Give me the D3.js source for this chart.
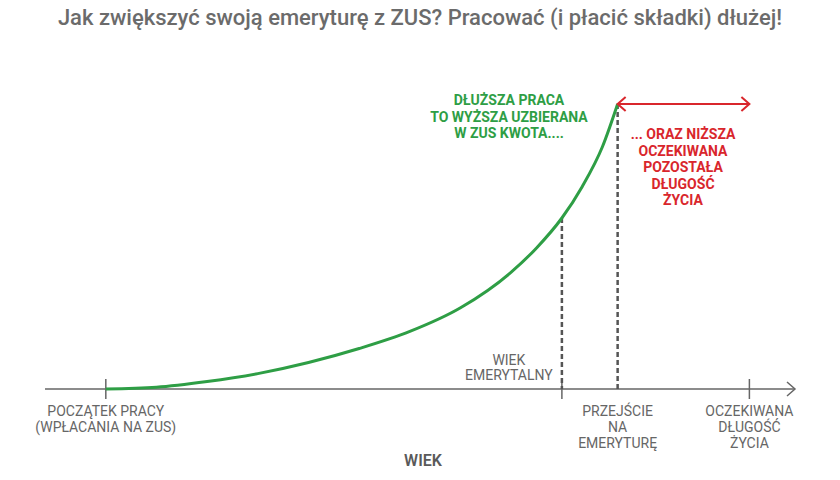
<!DOCTYPE html>
<html>
    <head>
        <meta charset="utf-8">
        <title>Emerytura ZUS</title>
        <script type="text/javascript" src="https://cdn.jsdelivr.net/npm/d3@7"></script>
        <style>
            body { margin: 0; background: #fff; }
            text { font-family: Roboto, "Noto Sans", sans-serif; }
        </style>
    </head>
    <body>
        <script type="text/javascript">
            // wiek (lata) i uzbierana kwota (umowne jednostki, 100 = szczyt)
            var ages    = [20, 25, 30, 35, 40, 45, 50, 55, 60, 62.5, 65, 67, 69, 70.5];
            var savings = [0, 0.6, 2.6, 5.4, 9.3, 14.2, 20.2, 28.5, 41, 49.5, 60, 71, 85, 100];

            var startAge = 20, retireAge = 65, exitAge = 70.5, lifeAge = 83.5;

            var tickAges = [startAge, retireAge, lifeAge];
            var tickLabels = [
                ["POCZĄTEK PRACY", "(WPŁACANIA NA ZUS)"],
                null,
                ["OCZEKIWANA", "DŁUGOŚĆ", "ŻYCIA"]
            ];
            var retireLabel = ["WIEK", "EMERYTALNY"];
            var exitLabel = ["PRZEJŚCIE", "NA", "EMERYTURĘ"];
            var greenNote = ["DŁUŻSZA PRACA", "TO WYŻSZA UZBIERANA", "W ZUS KWOTA...."];
            var redNote = ["... ORAZ NIŻSZA", "OCZEKIWANA", "POZOSTAŁA", "DŁUGOŚĆ", "ŻYCIA"];

            var width = 840, height = 480;
            var green = "#2e9e45", red = "#d9262c", grey = "#666";

            var svg = d3.select("body").append("svg").attr("width", width).attr("height", height);

            var x = d3.scaleLinear().domain([14, 88]).range([45, 795]);
            var y = d3.scaleLinear().domain([0, 100]).range([389, 104]);

            svg.append("text")
                .attr("x", width / 2).attr("y", 25)
                .attr("text-anchor", "middle")
                .attr("font-size", 22).attr("font-weight", 500)
                .attr("fill", "#6b6b6b")
                .text("Jak zwiększyć swoją emeryturę z ZUS? Pracować (i płacić składki) dłużej!");

            // os wieku
            var axis = svg.append("g").attr("stroke", grey).attr("stroke-width", 1.5).attr("fill", "none");
            axis.append("line").attr("x1", x(14)).attr("x2", x(88)).attr("y1", y(0)).attr("y2", y(0));
            axis.append("path")
                .attr("d", "M" + (x(88) - 8) + "," + (y(0) - 7) + " L" + x(88) + "," + y(0) + " L" + (x(88) - 8) + "," + (y(0) + 7));
            axis.selectAll(".tick").data(tickAges).enter().append("line")
                .attr("x1", function (d) { return x(d); }).attr("x2", function (d) { return x(d); })
                .attr("y1", y(0) - 10).attr("y2", y(0) + 10);

            function multiline(lines, cx, cy, opts) {
                var t = svg.append("text")
                    .attr("text-anchor", "middle")
                    .attr("font-size", opts.size)
                    .attr("font-weight", opts.weight)
                    .attr("fill", opts.color);
                lines.forEach(function (l, i) {
                    t.append("tspan").attr("x", cx).attr("y", cy + i * opts.lh).text(l);
                });
            }

            tickLabels.forEach(function (lines, i) {
                if (lines) multiline(lines, x(tickAges[i]), 416, {size: 14, weight: 400, color: grey, lh: 16.2});
            });
            multiline(exitLabel, x(exitAge), 416, {size: 14, weight: 400, color: grey, lh: 16.2});
            multiline(retireLabel, x(retireAge) - 53, 365, {size: 14, weight: 400, color: grey, lh: 15});

            svg.append("text")
                .attr("x", 423).attr("y", 466)
                .attr("text-anchor", "middle")
                .attr("font-size", 16).attr("font-weight", 600)
                .attr("fill", "#5a5a5a")
                .text("WIEK");

            // linie przerywane
            var retireVal = savings[ages.indexOf(retireAge)];
            var exitVal = savings[ages.indexOf(exitAge)];
            [[retireAge, retireVal], [exitAge, exitVal]].forEach(function (p) {
                svg.append("line")
                    .attr("x1", x(p[0])).attr("x2", x(p[0]))
                    .attr("y1", y(p[1])).attr("y2", y(0))
                    .attr("stroke", "#555").attr("stroke-width", 2.5)
                    .attr("stroke-dasharray", "5,3");
            });

            // krzywa kwoty
            var line = d3.line()
                .x(function (d, i) { return x(ages[i]); })
                .y(function (d) { return y(d); })
                .curve(d3.curveMonotoneX);
            svg.append("path")
                .datum(savings)
                .attr("d", line)
                .attr("fill", "none")
                .attr("stroke", green).attr("stroke-width", 3);

            // strzalka pozostalej dlugosci zycia
            var ay = y(exitVal);
            var ar = svg.append("g").attr("stroke", red).attr("stroke-width", 2).attr("fill", "none");
            ar.append("line").attr("x1", x(exitAge)).attr("x2", x(lifeAge)).attr("y1", ay).attr("y2", ay);
            ar.append("path").attr("d", "M" + (x(exitAge) + 8) + "," + (ay - 7) + " L" + x(exitAge) + "," + ay + " L" + (x(exitAge) + 8) + "," + (ay + 7));
            ar.append("path").attr("d", "M" + (x(lifeAge) - 8) + "," + (ay - 7) + " L" + x(lifeAge) + "," + ay + " L" + (x(lifeAge) - 8) + "," + (ay + 7));

            multiline(greenNote, 509, 105, {size: 14, weight: 700, color: green, lh: 16.7});
            multiline(redNote, 683, 139, {size: 14, weight: 700, color: red, lh: 16.5});
        </script>
    </body>
</html>
